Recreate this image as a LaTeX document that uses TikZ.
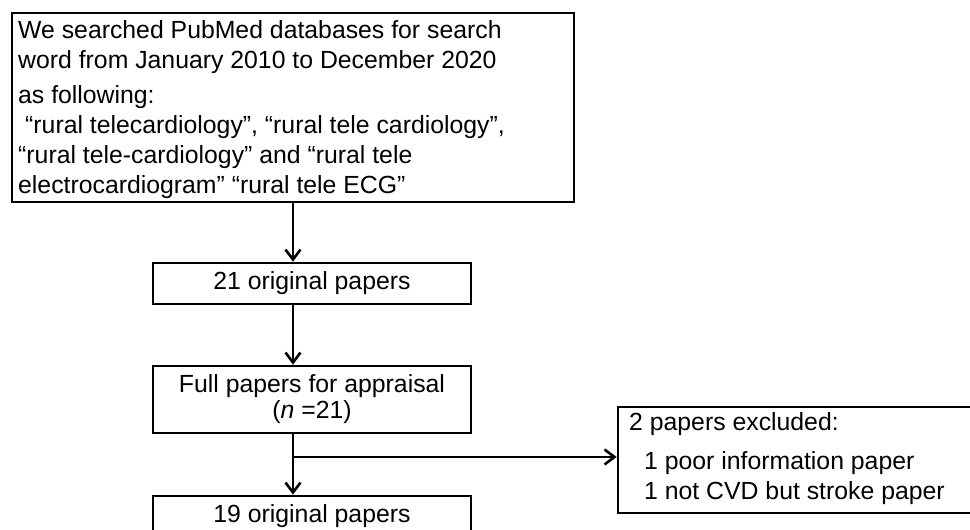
\documentclass[tikz,border=0pt]{standalone}
\usepackage{fontspec}
\setmainfont{Liberation Sans}
\usetikzlibrary{arrows.meta}
\begin{document}
\begin{tikzpicture}[x=1pt,y=-1pt,
  box/.style={draw, line width=2.6pt, inner sep=0pt, font=\fontsize{24.8}{26}\selectfont},
  txt/.style={font=\fontsize{24.8}{30}\selectfont, inner sep=0pt, align=left, anchor=north west},
  arr/.style={line width=2.6pt, -{Straight Barb[length=10pt,width=15pt,line width=2.6pt]}},
  plain/.style={line width=2.6pt}]
\useasboundingbox (0,0) rectangle (970,530);
% top search box
\node[box, minimum width=562pt, minimum height=189pt] (search) at (293,107.5) {};
\node[txt] (searchtext) at (18,20) {We searched PubMed databases for search\\
word from January 2010 to December 2020\\[5pt]
as following:\\
\hspace*{7pt}“rural telecardiology”, “rural tele cardiology”,\\
“rural tele-cardiology” and “rural tele\\
electrocardiogram” “rural tele ECG”};
% middle boxes
\node[box, minimum width=318pt, minimum height=41pt] (orig) at (312,283.5) {21 original papers};
\node[box, minimum width=318pt, minimum height=67pt, align=center] (full) at (312,399.5) {Full papers for appraisal\\(\textit{n} =21)};
\node[box, minimum width=318pt, minimum height=41pt] (final) at (312,516.5) {19 original papers};
% excluded box
\node[box, minimum width=357pt, minimum height=106pt] (excl) at (796.5,460) {};
\node[txt] (excltext) at (629,412) {2 papers excluded:\\[9pt]
\hspace*{15pt}1 poor information paper\\
\hspace*{15pt}1 not CVD but stroke paper};
% connectors
\coordinate (branch) at (293,457);
\draw[arr] (search.south) -- (search.south |- orig.north);
\draw[arr] (search.south |- orig.south) -- (search.south |- full.north);
\draw[plain] (search.south |- full.south) -- (branch);
\draw[arr] (branch) -- (branch |- final.north);
\draw[arr] (branch) -- (branch -| excl.west);
\end{tikzpicture}
\end{document}
